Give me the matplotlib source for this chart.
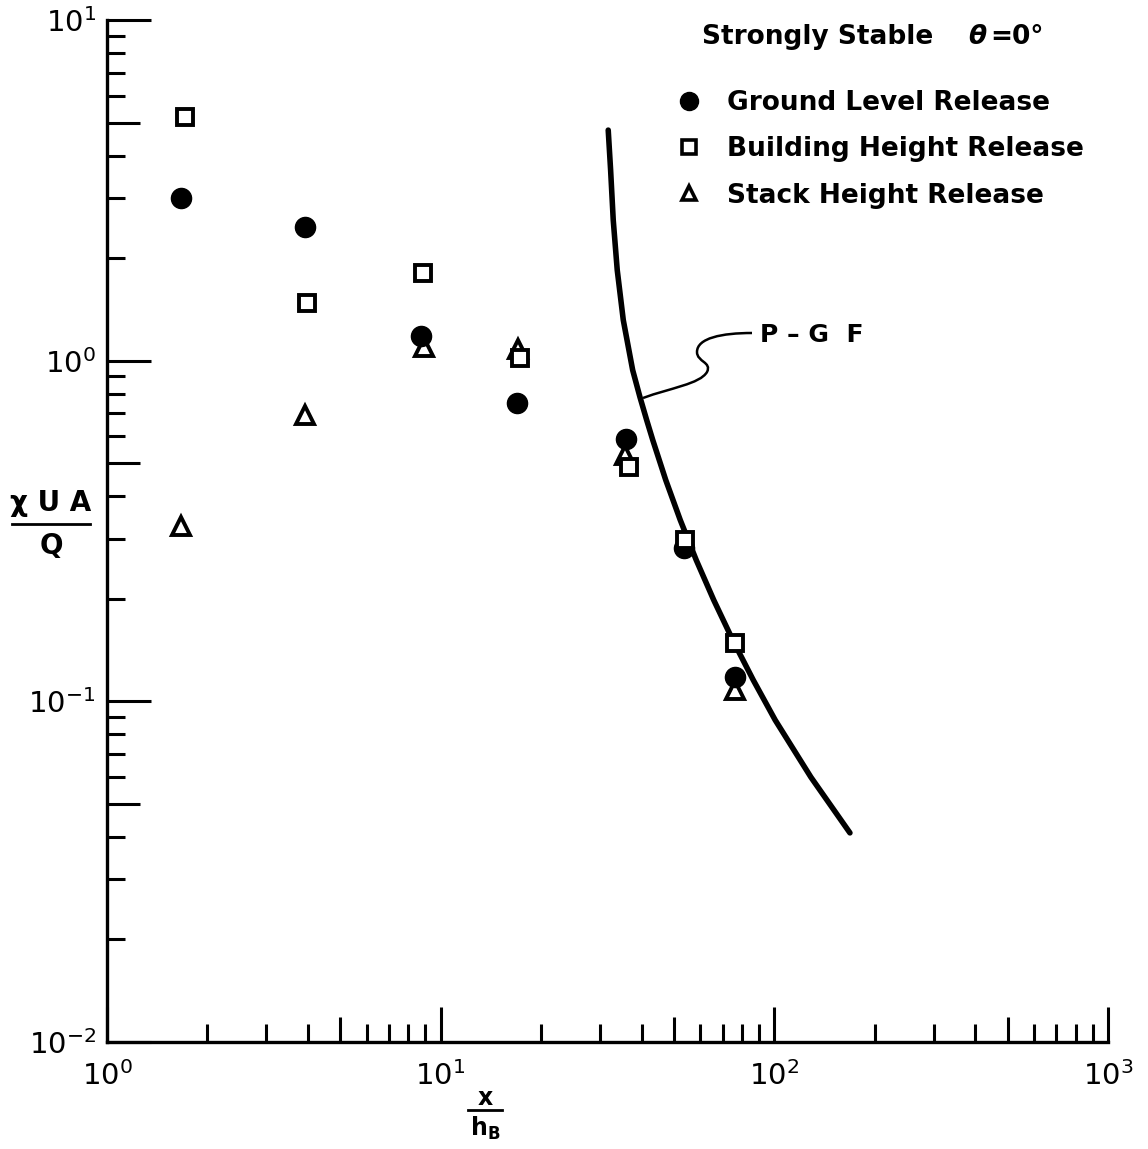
import matplotlib
matplotlib.use("Agg")
import matplotlib.pyplot as plt
from matplotlib.lines import Line2D
from matplotlib.path import Path
from matplotlib.patches import PathPatch
from matplotlib.ticker import LogLocator, NullFormatter, FixedLocator

plt.rcParams['font.family'] = ['DejaVu Sans']

# ---------------- data ----------------
ground_x = [1.67, 3.92, 8.73, 16.9, 35.9, 53.6, 76.2]
ground_y = [3.0, 2.47, 1.18, 0.75, 0.589, 0.282, 0.118]

building_x = [1.71, 3.97, 8.85, 17.3, 36.7, 54.0, 76.2]
building_y = [5.19, 1.476, 1.81, 1.02, 0.487, 0.297, 0.148]

stack_x = [1.67, 3.92, 8.91, 17.1, 35.6, 76.2]
stack_y = [0.327, 0.692, 1.096, 1.08, 0.529, 0.108]

pgf_x = [31.78, 32.31, 32.90, 33.82, 35.26, 37.62, 39.56, 41.44, 43.22, 47.27,
         52.25, 58.33, 65.82, 75.05, 86.45, 100.6, 128.7, 168.5]
pgf_y = [4.751, 3.625, 2.587, 1.845, 1.316, 0.9384, 0.7818, 0.6693, 0.5846,
         0.4462, 0.3405, 0.2599, 0.1983, 0.1513, 0.1155, 0.0881, 0.0599, 0.0411]

x_ticks = [1, 10, 100, 1000]
x_ticklabels = [r'$10^{0}$', r'$10^{1}$', r'$10^{2}$', r'$10^{3}$']
y_ticks = [0.01, 0.1, 1, 10]
y_ticklabels = [r'$10^{-2}$', r'$10^{-1}$', r'$10^{0}$', r'$10^{1}$']

W, H = 1148, 1149
fig = plt.figure(figsize=(W / 100, H / 100), dpi=100)
ax = fig.add_axes([107 / W, 1 - 1042 / H, (1108 - 107) / W, (1042 - 20) / H])

ax.set_xscale('log')
ax.set_yscale('log')
ax.set_xlim(1, 1000)
ax.set_ylim(0.01, 10)

for s in ['top', 'right']:
    ax.spines[s].set_visible(False)
for s in ['left', 'bottom']:
    ax.spines[s].set_linewidth(2.4)
    ax.spines[s].set_capstyle('projecting')

# ticks
ax.xaxis.set_major_locator(FixedLocator(x_ticks))
ax.yaxis.set_major_locator(FixedLocator(y_ticks))
ax.set_xticklabels(x_ticklabels)
ax.set_yticklabels(y_ticklabels)
ax.xaxis.set_minor_locator(LogLocator(base=10, subs=(2, 3, 4, 6, 7, 8, 9)))
ax.yaxis.set_minor_locator(LogLocator(base=10, subs=(2, 3, 4, 6, 7, 8, 9)))
ax.xaxis.set_minor_formatter(NullFormatter())
ax.yaxis.set_minor_formatter(NullFormatter())
ax.tick_params(axis='x', which='major', direction='in', length=25, width=2.2,
               labelsize=21, pad=14)
ax.tick_params(axis='y', which='major', direction='in', length=32, width=2.2,
               labelsize=21, pad=8)
ax.tick_params(which='minor', direction='in', length=13, width=2.2)

# medium ticks at 5s
for dec in [1, 10, 100]:
    ax.plot([5 * dec, 5 * dec], [0, 25 / 1022], transform=ax.get_xaxis_transform(),
            color='black', lw=2.2, clip_on=False, solid_capstyle='butt')
for dec in [0.01, 0.1, 1]:
    ax.plot([0, 33 / 1001], [5 * dec, 5 * dec], transform=ax.get_yaxis_transform(),
            color='black', lw=2.2, clip_on=False, solid_capstyle='butt')

# data
ax.plot(pgf_x, pgf_y, color='black', lw=4, solid_capstyle='round',
        solid_joinstyle='round', zorder=2)
ax.plot(stack_x, stack_y, linestyle='none', marker='^', markersize=13,
        markerfacecolor='white', markeredgecolor='black', markeredgewidth=2.8, zorder=3)
ax.plot(ground_x, ground_y, linestyle='none', marker='o', markersize=14.5,
        markerfacecolor='black', markeredgecolor='black', zorder=4)
ax.plot(building_x, building_y, linestyle='none', marker='s', markersize=11.5,
        markerfacecolor='white', markeredgecolor='black', markeredgewidth=2.8, zorder=5)

# legend
handles = [
    Line2D([], [], linestyle='none', marker='o', markersize=13,
           markerfacecolor='black', markeredgecolor='black'),
    Line2D([], [], linestyle='none', marker='s', markersize=9.5,
           markerfacecolor='white', markeredgecolor='black', markeredgewidth=2.6),
    Line2D([], [], linestyle='none', marker='^', markersize=10.5,
           markerfacecolor='white', markeredgecolor='black', markeredgewidth=2.6),
]
labels = ['Ground Level Release', 'Building Height Release', 'Stack Height Release']
leg = fig.legend(handles, labels, loc='upper left',
                 bbox_to_anchor=(676 / W, 1 - 90 / H), frameon=False,
                 prop={'size': 19, 'weight': 'bold'}, handlelength=1.0,
                 handletextpad=0.95, labelspacing=0.77, borderpad=0, borderaxespad=0)

# title
fig.text(702 / W, 1 - 37 / H, 'Strongly Stable', fontsize=19, fontweight='bold',
         ha='left', va='center')
fig.text(968 / W, 1 - 37 / H, 'θ', fontsize=19, fontweight='bold', style='italic',
         ha='left', va='center')
fig.text(990 / W, 1 - 37 / H, '=0°', fontsize=19, fontweight='bold',
         ha='left', va='center')

# P-G F annotation
fig.text(760 / W, 1 - 335 / H, 'P – G  F', fontsize=18, fontweight='bold',
         ha='left', va='center')
pts = [(752, 333), (722, 333), (697, 338), (697, 352),
       (697, 362), (712, 362), (707, 372),
       (700, 384), (670, 388), (643, 398)]
verts = [(px / W, 1 - py / H) for px, py in pts]
codes = [Path.MOVETO] + [Path.CURVE4] * 9
fig.add_artist(PathPatch(Path(verts, codes), transform=fig.transFigure,
                         facecolor='none', edgecolor='black', lw=1.8))

# axis labels
fig.text(51 / W, 1 - 503 / H, 'χ U A', fontsize=20, fontweight='bold',
         ha='center', va='center')
fig.add_artist(Line2D([12 / W, 90 / W], [1 - 524 / H, 1 - 524 / H],
                      transform=fig.transFigure, color='black', lw=2))
fig.text(51 / W, 1 - 546 / H, 'Q', fontsize=20, fontweight='bold',
         ha='center', va='center')

fig.text(485 / W, 1 - 1098 / H, 'x', fontsize=17, fontweight='bold',
         ha='center', va='center')
fig.add_artist(Line2D([468 / W, 502 / W], [1 - 1110 / H, 1 - 1110 / H],
                      transform=fig.transFigure, color='black', lw=2))
fig.text(485 / W, 1 - 1128 / H, r'h$_\mathbf{B}$', fontsize=17, fontweight='bold',
         ha='center', va='center')

fig.savefig('out.png', dpi=100)
